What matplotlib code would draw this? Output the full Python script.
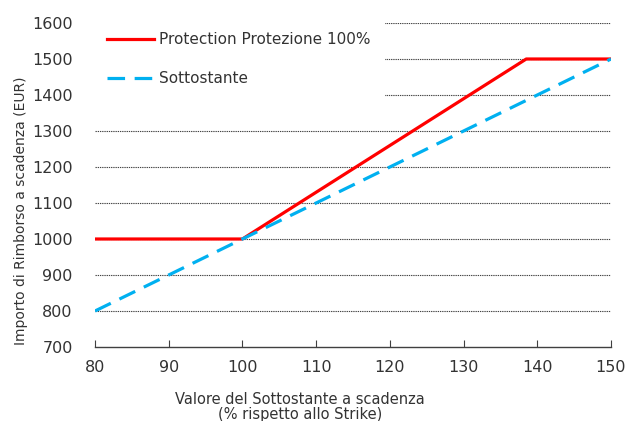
import numpy as np
import matplotlib.pyplot as plt

# payoff at maturity (% of strike -> EUR)
strike_pct = [80, 100, 138.5, 150]
protection = [1000, 1000, 1500, 1500]
under_pct = [80, 150]
underlying = [800, 1500]

yticks = [700, 800, 900, 1000, 1100, 1200, 1300, 1400, 1500, 1600]
xticks = [80, 90, 100, 110, 120, 130, 140, 150]

txt = '#333333'
plt.rcParams['font.family'] = ['DejaVu Sans']

fig = plt.figure(figsize=(6.29, 4.21), dpi=100)
ax = fig.add_axes([95/629, 1 - 347/421, (611-95)/629, (347-23)/421])

for yv in yticks[1:]:
    ax.axhline(yv, color='#444444', lw=0.8, ls=(0, (1.2, 0.8)), zorder=1)

ax.plot(strike_pct, protection, color='#FF0000', lw=2.3, zorder=3,
        label='Protection Protezione 100%')
ax.plot(under_pct, underlying, color='#00B0F0', lw=2.3, dashes=(5.5, 3),
        zorder=3, label='Sottostante')

ax.set_xlim(80, 150)
ax.set_ylim(700, 1600)
ax.set_xticks(xticks)
ax.set_yticks(yticks)

for s in ['top', 'right', 'left']:
    ax.spines[s].set_visible(False)
ax.spines['bottom'].set_color('#404040')
ax.spines['bottom'].set_linewidth(1.0)
ax.tick_params(axis='x', direction='in', length=5, color='#404040',
               labelsize=11.5, labelcolor=txt, pad=9)
ax.tick_params(axis='y', length=0, labelsize=11.5, labelcolor=txt, pad=16)

ax.set_xlabel('Valore del Sottostante a scadenza\n(% rispetto allo Strike)',
              fontsize=10.5, color=txt, linespacing=1.0)
ax.xaxis.set_label_coords((300-95)/(611-95), -0.14)
ax.set_ylabel('Importo di Rimborso a scadenza (EUR)', fontsize=10, color=txt)
ax.yaxis.set_label_coords(-0.13, 0.42)

leg = ax.legend(loc='upper left', bbox_to_anchor=(-0.004, 1.015), frameon=True,
                fontsize=11, handlelength=3.1, labelspacing=1.6,
                borderpad=0.9, handletextpad=0.35, borderaxespad=0)
leg.get_frame().set_facecolor('white')
leg.get_frame().set_edgecolor('none')
leg.get_frame().set_alpha(1)
leg.set_zorder(5)
for t in leg.get_texts():
    t.set_color(txt)

fig.savefig('out.png', dpi=100)
